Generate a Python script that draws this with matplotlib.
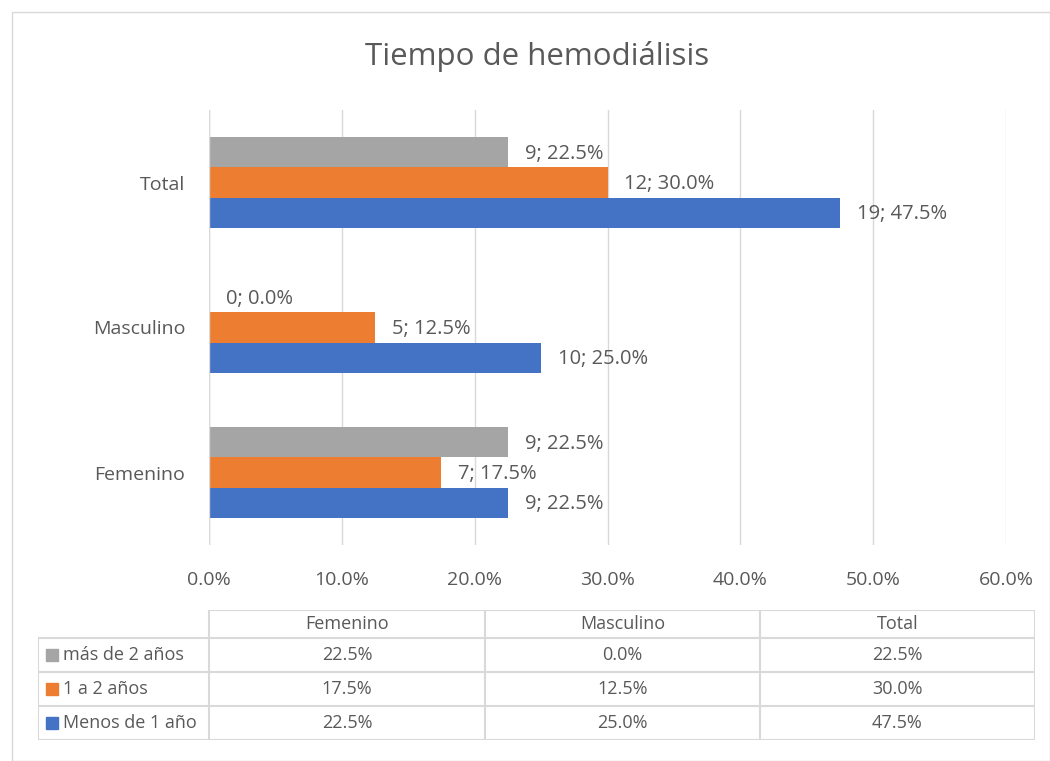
import numpy as np
import matplotlib.pyplot as plt
from matplotlib.patches import Rectangle

plt.rcParams['font.family'] = ['Open Sans', 'DejaVu Sans']

# data
categories = ['Femenino', 'Masculino', 'Total']
series = ['más de 2 años', '1 a 2 años', 'Menos de 1 año']
counts = {'más de 2 años': [9, 0, 9],
          '1 a 2 años': [7, 5, 12],
          'Menos de 1 año': [9, 10, 19]}
pct = {'más de 2 años': [22.5, 0.0, 22.5],
       '1 a 2 años': [17.5, 12.5, 30.0],
       'Menos de 1 año': [22.5, 25.0, 47.5]}
colors = {'más de 2 años': '#a5a5a5', '1 a 2 años': '#ed7d31', 'Menos de 1 año': '#4472c4'}
offsets = {'más de 2 años': 1, '1 a 2 años': 0, 'Menos de 1 año': -1}
xticks = [0, 10, 20, 30, 40, 50, 60]

txt = '#595959'
grid = '#d9d9d9'

W, H = 1050, 761
fig = plt.figure(figsize=(W / 100, H / 100), dpi=100)

# outer chart border
fig.patches.append(Rectangle((12 / W, 0), (W - 12) / W, 1 - 12 / H, transform=fig.transFigure,
                             fill=False, edgecolor=grid, lw=1))

def fbox(x0, y0, x1, y1):
    return [x0 / W, 1 - y1 / H, (x1 - x0) / W, (y1 - y0) / H]

ax = fig.add_axes(fbox(209, 110, 1006, 545))
ypos = np.arange(len(categories))
bh = 0.207
for s in series:
    yy = ypos + offsets[s] * bh
    ax.barh(yy, pct[s], height=bh, color=colors[s], zorder=3)
    for y, v, c in zip(yy, pct[s], counts[s]):
        ax.annotate(f'{c}; {v:.1f}%', (v, y), xytext=(12, -1), textcoords='offset points',
                    va='center', ha='left', fontsize=14.5, color=txt)

ax.set_xlim(0, 60)
ax.set_ylim(-0.5, 2.5)
ax.set_xticks(xticks)
ax.set_xticklabels([f'{t:.1f}%' for t in xticks], fontsize=14, color=txt)
ax.set_yticks(ypos)
ax.set_yticklabels(categories, fontsize=14, color=txt)
ax.tick_params(length=0, pad=17, axis='y')
ax.tick_params(length=0, pad=19, axis='x')
ax.grid(axis='x', color=grid, lw=1, zorder=0)
for sp in ax.spines.values():
    sp.set_visible(False)
ax.axvline(0, color=grid, lw=1, zorder=4)

fig.text(537 / W, 1 - 57 / H, 'Tiempo de hemodiálisis', ha='center', va='center',
         fontsize=22.5, color=txt)

# data table
tax = fig.add_axes(fbox(38, 610, 1035, 740))
tax.set_xlim(38, 1035)
tax.set_ylim(740, 610)
tax.axis('off')
col_edges = [209, 485, 760, 1035]
row_edges = [610, 638, 672, 706, 740]
lc = dict(color=grid, lw=1.5)
tax.plot([209, 1035], [610, 610], **lc)
for x in col_edges:
    tax.plot([x, x], [610, 740], **lc)
tax.plot([38, 38], [638, 740], **lc)
for y in row_edges[1:]:
    tax.plot([38, 1035], [y, y], **lc)
for j, cat in enumerate(categories):
    tax.text((col_edges[j] + col_edges[j + 1]) / 2, 624, cat, ha='center', va='center',
             fontsize=13, color=txt)
for i, s in enumerate(series):
    yc = (row_edges[i + 1] + row_edges[i + 2]) / 2
    tax.add_patch(Rectangle((46, yc - 6), 12, 12, color=colors[s]))
    tax.text(63, yc, s, ha='left', va='center', fontsize=13, color=txt)
    for j in range(len(categories)):
        tax.text((col_edges[j] + col_edges[j + 1]) / 2, yc, f'{pct[s][j]:.1f}%',
                 ha='center', va='center', fontsize=13, color=txt)

plt.savefig('out.png', dpi=100)
